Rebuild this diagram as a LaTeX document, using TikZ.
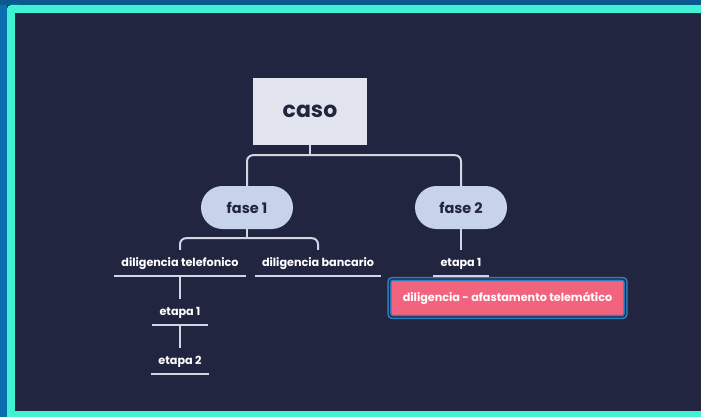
\documentclass[tikz,border=0pt]{standalone}
\usepackage{fontspec}
\setmainfont{Poppins}
\usetikzlibrary{calc}
\definecolor{bgdark}{HTML}{22253F}
\definecolor{turq}{HTML}{3EF2D2}
\definecolor{outblue}{HTML}{0A6DB0}
\definecolor{topblue}{HTML}{0A5A8E}
\definecolor{casofill}{HTML}{E1E3EE}
\definecolor{fasefill}{HTML}{C7D3EA}
\definecolor{darktext}{HTML}{22253F}
\definecolor{linegrey}{HTML}{D2D6E2}
\definecolor{pinkfill}{HTML}{F2637E}
\definecolor{pinkborder}{HTML}{2A80C4}
\tikzset{
  casobox/.style={fill=casofill, minimum width=114pt, minimum height=67pt, inner sep=0pt,
    font=\fontsize{22}{25}\selectfont\bfseries, text=darktext},
  fasebox/.style={fill=fasefill, minimum width=92pt, minimum height=43pt, inner sep=0pt,
    rounded corners=21.5pt, font=\fontsize{14.5}{16}\selectfont\bfseries, text=darktext},
  ullabel/.style={inner xsep=7pt, inner ysep=7pt, text height=9pt, text depth=3pt,
    font=\fontsize{11.2}{13}\selectfont\bfseries, text=white},
  uline/.style={draw=linegrey, line width=1.8pt},
  conn/.style={draw=linegrey, line width=2pt, rounded corners=6pt},
  pinkbox/.style={fill=pinkfill, draw=pinkborder, line width=1.6pt, double=bgdark, double distance=1.2pt,
    rounded corners=3pt, minimum width=236pt, minimum height=38pt, inner sep=0pt,
    font=\fontsize{11.2}{13}\selectfont\bfseries, text=white},
}
\begin{document}
\begin{tikzpicture}[x=1pt,y=-1pt]
  \useasboundingbox (0,0) rectangle (701,417);
  % frame
  \fill[bgdark] (0,0) rectangle (701,417);
  \fill[outblue] (0,0) rectangle (7,417);
  \fill[topblue] (0,0) rectangle (701,5);
  \fill[turq] (15,5) rectangle (701,13);
  \fill[turq] (15,411) rectangle (701,417);
  \fill[turq, rounded corners=4pt] (7,5) rectangle (22,417);
  \fill[turq] (7,411) rectangle (22,417);
  \fill[bgdark] (15,13) rectangle (30,411);
  % nodes
  \node[casobox] (caso) at (310,111.5) {caso};
  \node[fasebox] (f1) at (247,207.5) {fase 1};
  \node[fasebox] (f2) at (461,207.5) {fase 2};
  \node[ullabel] (dt) at (180,263) {diligencia telefonico};
  \node[ullabel] (db) at (318,263) {diligencia bancario};
  \node[ullabel] (e1) at (180,312) {etapa 1};
  \node[ullabel] (e2) at (180,361) {etapa 2};
  \node[ullabel] (r1) at (461,263) {etapa 1};
  \node[pinkbox] (dat) at (507.5,298) {diligencia - afastamento telemático};
  % underlines
  \foreach \n in {dt,db,e1,e2,r1}{
    \draw[uline] (\n.south west) -- (\n.south east);
  }
  % connectors
  \coordinate (j0) at ($(caso.south)+(0,10)$);
  \draw[conn] (caso.south) -- (j0);
  \draw[conn] (f1.north) |- (j0) -| (f2.north);
  \coordinate (j1) at ($(f1.south)+(0,9)$);
  \draw[conn] (f1.south) -- (j1);
  \draw[conn] (dt.north) |- (j1) -| (db.north);
  \draw[conn] (dt.south) -- (e1.north);
  \draw[conn] (e1.south) -- (e2.north);
  \draw[conn] (f2.south) -- (r1.north);
\end{tikzpicture}
\end{document}
